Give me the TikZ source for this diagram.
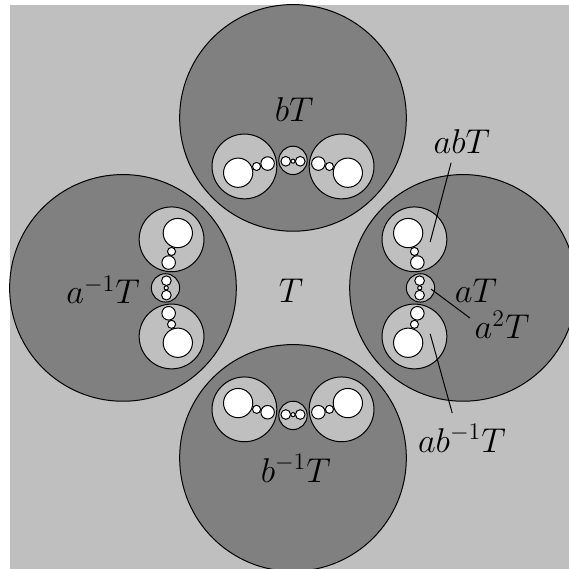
\documentclass[tikz,border=0pt]{standalone}
\begin{document}
\begin{tikzpicture}[x=1cm,y=1cm,
  bg/.style={fill=black!25},
  lvlone/.style={draw=black,fill=black!50,line width=0.5pt},
  lvltwo/.style={draw=black,fill=black!25,line width=0.5pt},
  lvlthree/.style={draw=black,fill=white,line width=0.5pt},
  lbl/.style={inner sep=0pt,font=\fontsize{16.5}{20}\selectfont},
  pointer/.style={draw=black,line width=0.5pt}]
\useasboundingbox (-5.17,-4.96) rectangle (4.87,5.08);
\fill[bg] (-5,-5) rectangle (5,5);
\foreach \ang in {0,90,180,270}{
  \begin{scope}[rotate=\ang]
    \draw[lvlone] (3,0) circle (2);
  \end{scope}
}
\foreach \ang in {0,90,180,270}{
  \begin{scope}[rotate=\ang]
    \draw[lvltwo] (2.142857,0.857143) circle (0.571429);
    \draw[lvltwo] (2.142857,-0.857143) circle (0.571429);
    \draw[lvltwo] (2.25,0) circle (0.25);
    \draw[lvlthree] (2.032258,0.967742) circle (0.258065);
    \draw[lvlthree] (2.194030,0.447761) circle (0.119403);
    \draw[lvlthree] (2.142857,0.642857) circle (0.071429);
    \draw[lvlthree] (2.032258,-0.967742) circle (0.258065);
    \draw[lvlthree] (2.194030,-0.447761) circle (0.119403);
    \draw[lvlthree] (2.142857,-0.642857) circle (0.071429);
    \draw[lvlthree] (2.234043,0.127660) circle (0.085106);
    \draw[lvlthree] (2.234043,-0.127660) circle (0.085106);
    \draw[lvlthree] (2.236364,0) circle (0.036364);
  \end{scope}
}
\node[lbl] (T) at (-0.035,-0.05) {$T$};
\node[lbl] (bT) at (0.02,3.14) {$bT$};
\node[lbl] (binvT) at (0.05,-3.18) {$b^{-1}T$};
\node[lbl] (ainvT) at (-3.35,-0.035) {$a^{-1}T$};
\node[lbl] (aT) at (3.23,-0.05) {$aT$};
\node[lbl] (abT) at (2.98,2.59) {$abT$};
\node[lbl] (aaT) at (3.69,-0.65) {$a^2T$};
\node[lbl] (abinvT) at (2.98,-2.65) {$ab^{-1}T$};
\coordinate (abTin) at (2.42,0.81);
\coordinate (abTout) at (2.79,2.21);
\coordinate (aaTin) at (2.435,-0.02);
\coordinate (aaTout) at (3.12,-0.53);
\coordinate (abinvTin) at (2.42,-0.81);
\coordinate (abinvTout) at (2.81,-2.21);
\draw[pointer] (abTin) -- (abTout);
\draw[pointer] (aaTin) -- (aaTout);
\draw[pointer] (abinvTin) -- (abinvTout);
\end{tikzpicture}
\end{document}
